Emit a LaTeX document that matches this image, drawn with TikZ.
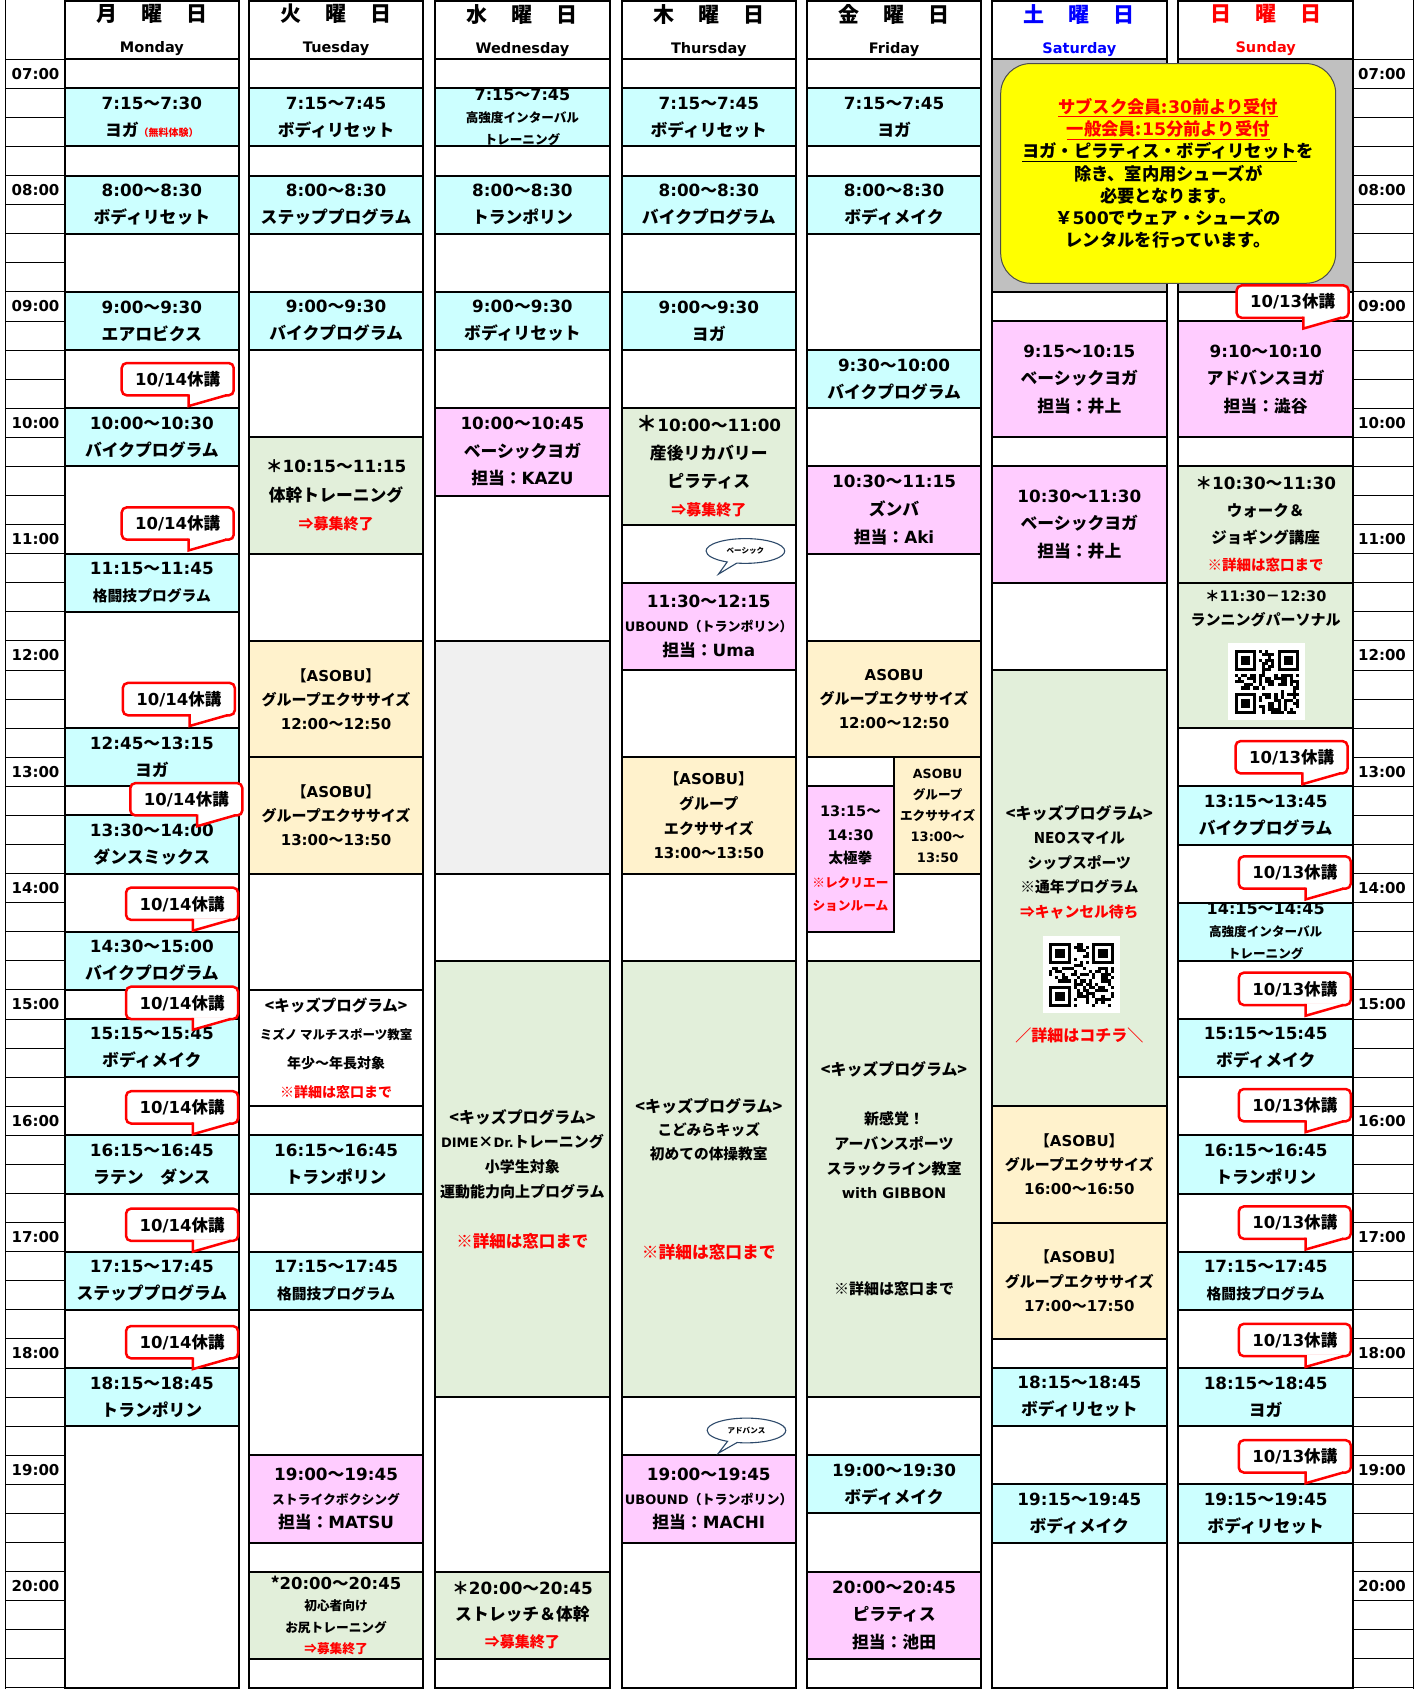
\documentclass[tikz,border=0pt]{standalone}
\usepackage{fontspec}
\setmainfont{Noto Sans CJK JP}
\newfontfamily\lat{DejaVu Sans}
\usetikzlibrary{shapes.callouts,shapes.geometric}
\definecolor{cyc}{HTML}{CCFFFF}
\definecolor{pkc}{HTML}{FFCCFF}
\definecolor{grc}{HTML}{E2EFDA}
\definecolor{crc}{HTML}{FFF2CC}
\definecolor{gyc}{HTML}{C0C0C0}
\definecolor{lgc}{HTML}{F0F0F0}
\definecolor{ylc}{HTML}{FFFF00}
\definecolor{bubc}{HTML}{2E4A6B}
\definecolor{satc}{HTML}{0000FF}
\definecolor{sunc}{HTML}{FF0000}
\newcommand\fsz[2]{\fontsize{#1}{#2}\selectfont}
\newcommand\trng[2]{{\lat #1}〜{\lat #2}}
\newcommand\rdt[1]{{\color{red}#1}}
\tikzset{
 blk/.style={draw=black,line width=2pt,inner sep=0pt,align=center,font=\bfseries\fsz{16.8}{27}},
 f/.style 2 args={font=\bfseries\fsz{#1}{#2}},
 cy/.style={fill=cyc}, pk/.style={fill=pkc}, gr/.style={fill=grc},
 cr/.style={fill=crc,font=\bfseries\fsz{15}{24.2}},
 wh/.style={fill=white}, gy/.style={fill=gyc}, lg/.style={fill=lgc},
 colb/.style={draw=black,line width=2pt},
 tline/.style={draw=black,line width=0.9pt},
 tlab/.style={font=\bfseries\lat\fsz{15}{15},inner sep=0pt},
 hdr/.style={draw=black,line width=2pt,fill=white,inner sep=0pt,align=center,minimum width=162*1.0769pt,minimum height=54*1.0769pt,font=\bfseries\fsz{21}{31}},
 coline/.style={draw=red,line width=2.5pt,fill=white},
 cotext/.style={font=\bfseries\fsz{16.5}{16.5},inner sep=0pt},
 bubble/.style={ellipse callout,draw=bubc,line width=1.1pt,fill=white,inner sep=0pt,minimum width=73*1.0769pt,minimum height=23*1.0769pt,font=\bfseries\fsz{7.5}{8}},
 ftxt/.style={align=center,inner sep=0pt}
}
\newcommand\blk[5]{\node[blk,#4,minimum width={\colw*1.0769pt},minimum height={108*(#3-#2)*1.0769pt}] (#1) at ({\colx+\colw/2},{55+54*(#2+#3-14)}) {#5};}
\newcommand\callout[4]{%
 \draw[coline,rounded corners=5pt] (#2,#3) rectangle ++(104,30);
 \fill[white] ({#2+62},{#3+28.5}) -- ({#2+62},{#3+40}) -- ({#2+96},{#3+30}) -- ({#2+96},{#3+28.5}) -- cycle;
 \draw[draw=red,line width=2.5pt,line join=miter] ({#2+62},{#3+29}) -- ({#2+62},{#3+40}) -- ({#2+97},{#3+30});
 \node[cotext] (#1) at ({#2+52},{#3+15}) {{\lat #4}休講};
}
\newcommand\qrcode[4]{%
 \pgfmathsetseed{#4}%
 \fill[white] ({#1-12.5*#3},{#2-12.5*#3}) rectangle ({#1+12.5*#3},{#2+12.5*#3});
 \foreach \i in {0,...,20}{\foreach \j in {0,...,20}{%
  \pgfmathrandominteger{\rr}{0}{1}%
  \pgfmathtruncatemacro\qrskip{or(or(and(\i<8,\j<8),and(\i>12,\j<8)),and(\i<8,\j>12))}%
  \ifnum\qrskip=0 \ifnum\rr=1 \fill ({#1+(\i-10.5)*#3},{#2+(\j-10.5)*#3}) rectangle ++(#3,#3);\fi\fi
 }}
 \foreach \a/\b in {0/0,14/0,0/14}{%
  \fill ({#1+(\a-10.5)*#3},{#2+(\b-10.5)*#3}) rectangle ++({7*#3},{7*#3});
  \fill[white] ({#1+(\a-9.5)*#3},{#2+(\b-9.5)*#3}) rectangle ++({5*#3},{5*#3});
  \fill ({#1+(\a-8.5)*#3},{#2+(\b-8.5)*#3}) rectangle ++({3*#3},{3*#3});
 }
}
\newcommand\hsp{\hspace{1.14em}}
\begin{document}
\begin{tikzpicture}[x=1.0769pt,y=-1.0769pt]
\useasboundingbox (0,0) rectangle (1314,1568);
\fill[white] (0,0) rectangle (1314,1568);
% time columns
\foreach \k in {0,...,56}{\draw[tline] (5,{55+27*\k}) -- (60,{55+27*\k}); \draw[tline] (1256,{55+27*\k}) -- (1312,{55+27*\k});}
\draw[tline] (5,0) -- (5,1568);
\draw[tline] (1312,0) -- (1312,1568);
\foreach \h/\lbl in {7/07:00,8/08:00,9/09:00,10/10:00,11/11:00,12/12:00,13/13:00,14/14:00,15/15:00,16/16:00,17/17:00,18/18:00,19/19:00,20/20:00}{
 \node[tlab] (L\h) at (33,{55+108*(\h-7)+13.5}) {\lbl};
 \node[tlab] (R\h) at (1283,{55+108*(\h-7)+13.5}) {\lbl};
}
% ---------- Monday
\def\colx{60}\def\colw{162}
\blk{m0}{7}{7.25}{wh}{}
\blk{m1}{7.25}{7.75}{cy}{\trng{7:15}{7:30}\\ヨガ{\fsz{10}{10}\color{red}（無料体験）}}
\blk{m2}{7.75}{8}{wh}{}
\blk{m3}{8}{8.5}{cy}{\trng{8:00}{8:30}\\ボディリセット}
\blk{m4}{8.5}{9}{wh}{}
\blk{m5}{9}{9.5}{cy}{\trng{9:00}{9:30}\\エアロビクス}
\blk{m6}{9.5}{10}{wh}{}
\blk{m7}{10}{10.5}{cy}{\trng{10:00}{10:30}\\バイクプログラム}
\blk{m8}{10.5}{11.25}{wh}{}
\blk{m9}{11.25}{11.75}{cy}{\trng{11:15}{11:45}\\{\fsz{14.8}{15}格闘技プログラム}}
\blk{m10}{11.75}{12.75}{wh}{}
\blk{m11}{12.75}{13.25}{cy}{\trng{12:45}{13:15}\\ヨガ}
\blk{m12}{13.25}{13.5}{wh}{}
\blk{m13}{13.5}{14}{cy}{\trng{13:30}{14:00}\\ダンスミックス}
\blk{m14}{14}{14.5}{wh}{}
\blk{m15}{14.5}{15}{cy}{\trng{14:30}{15:00}\\バイクプログラム}
\blk{m16}{15}{15.25}{wh}{}
\blk{m17}{15.25}{15.75}{cy}{\trng{15:15}{15:45}\\ボディメイク}
\blk{m18}{15.75}{16.25}{wh}{}
\blk{m19}{16.25}{16.75}{cy}{\trng{16:15}{16:45}\\ラテン　ダンス}
\blk{m20}{16.75}{17.25}{wh}{}
\blk{m21}{17.25}{17.75}{cy}{\trng{17:15}{17:45}\\ステッププログラム}
\blk{m22}{17.75}{18.25}{wh}{}
\blk{m23}{18.25}{18.75}{cy}{\trng{18:15}{18:45}\\トランポリン}
\blk{m24}{18.75}{21}{wh}{}
% ---------- Tuesday
\def\colx{231}
\blk{t0}{7}{7.25}{wh}{}
\blk{t1}{7.25}{7.75}{cy}{\trng{7:15}{7:45}\\ボディリセット}
\blk{t2}{7.75}{8}{wh}{}
\blk{t3}{8}{8.5}{cy}{\trng{8:00}{8:30}\\ステッププログラム}
\blk{t4}{8.5}{9}{wh}{}
\blk{t5}{9}{9.5}{cy}{\trng{9:00}{9:30}\\バイクプログラム}
\blk{t6}{9.5}{10.25}{wh}{}
\blk{t7}{10.25}{11.25}{gr,f={16.8}{28.5}}{＊\trng{10:15}{11:15}\\体幹トレーニング\\{\fsz{15}{15}\color{red}⇒募集終了}}
\blk{t8}{11.25}{12}{wh}{}
\blk{t9}{12}{13}{cr}{【{\lat ASOBU}】\\グループエクササイズ\\\trng{12:00}{12:50}}
\blk{t10}{13}{14}{cr}{【{\lat ASOBU}】\\グループエクササイズ\\\trng{13:00}{13:50}}
\blk{t11}{14}{15}{wh}{}
\blk{t12}{15}{16}{wh,f={15.5}{28.5}}{<キッズプログラム>\\{\fsz{12.5}{13}ミズノ マルチスポーツ教室}\\{\fsz{14}{14}年少〜年長対象}\\{\fsz{14}{14}\color{red}※詳細は窓口まで}}
\blk{t13}{16}{16.25}{wh}{}
\blk{t14}{16.25}{16.75}{cy}{\trng{16:15}{16:45}\\トランポリン}
\blk{t15}{16.75}{17.25}{wh}{}
\blk{t16}{17.25}{17.75}{cy}{\trng{17:15}{17:45}\\{\fsz{14.8}{15}格闘技プログラム}}
\blk{t17}{17.75}{19}{wh}{}
\blk{t18}{19}{19.75}{pk,f={16.8}{24.2}}{\trng{19:00}{19:45}\\{\fsz{12.8}{13}ストライクボクシング}\\担当：{\lat MATSU}}
\blk{t19}{19.75}{20}{wh}{}
\blk{t20}{20}{20.75}{gr,f={12.7}{21.5}}{{\fsz{16.5}{16.5}*\trng{20:00}{20:45}}\\初心者向け\\お尻トレーニング\\{\color{red}⇒募集終了}}
\blk{t21}{20.75}{21}{wh}{}
% ---------- Wednesday
\def\colx{404}
\blk{w0}{7}{7.25}{wh}{}
\blk{w1}{7.25}{7.75}{cy,f={12.6}{22}}{{\fsz{16}{16}\trng{7:15}{7:45}}\\高強度インターバル\\トレーニング}
\blk{w2}{7.75}{8}{wh}{}
\blk{w3}{8}{8.5}{cy}{\trng{8:00}{8:30}\\トランポリン}
\blk{w4}{8.5}{9}{wh}{}
\blk{w5}{9}{9.5}{cy}{\trng{9:00}{9:30}\\ボディリセット}
\blk{w6}{9.5}{10}{wh}{}
\blk{w7}{10}{10.75}{pk,f={16.8}{27.5}}{\trng{10:00}{10:45}\\ベーシックヨガ\\担当：{\lat KAZU}}
\blk{w8}{10.75}{12}{wh}{}
\blk{w9}{12}{14}{lg}{}
\blk{w10}{14}{14.75}{wh}{}
\blk{w11}{14.75}{18.5}{gr,f={15}{24.8}}{{\fsz{15.9}{16}<キッズプログラム>}\\{\lat\fsz{13}{13}DIME}×{\lat\fsz{13}{13}Dr.}トレーニング\\小学生対象\\運動能力向上プログラム\\[24.8pt]{\fsz{16.5}{16.5}\color{red}※詳細は窓口まで}}
\blk{w12}{18.5}{20}{wh}{}
\blk{w13}{20}{20.75}{gr,f={16.8}{26.4}}{＊\trng{20:00}{20:45}\\ストレッチ＆体幹\\{\fsz{15}{15}\color{red}⇒募集終了}}
\blk{w14}{20.75}{21}{wh}{}
% ---------- Thursday
\def\colx{577}
\blk{h0}{7}{7.25}{wh}{}
\blk{h1}{7.25}{7.75}{cy}{\trng{7:15}{7:45}\\ボディリセット}
\blk{h2}{7.75}{8}{wh}{}
\blk{h3}{8}{8.5}{cy}{\trng{8:00}{8:30}\\バイクプログラム}
\blk{h4}{8.5}{9}{wh}{}
\blk{h5}{9}{9.5}{cy}{\trng{9:00}{9:30}\\ヨガ}
\blk{h6}{9.5}{10}{wh}{}
\blk{h7}{10}{11}{gr,f={16.8}{28}}{{\fsz{21}{21}＊}\trng{10:00}{11:00}\\産後リカバリー\\ピラティス\\{\fsz{15}{15}\color{red}⇒募集終了}}
\blk{h8}{11}{11.5}{wh}{}
\blk{h9}{11.5}{12.25}{pk,f={16.8}{24.8}}{\trng{11:30}{12:15}\\{\fsz{13}{13}{\lat UBOUND}（トランポリン）}\\担当：{\lat Uma}}
\blk{h10}{12.25}{13}{wh}{}
\blk{h11}{13}{14}{cr,f={15}{24.8}}{【{\lat ASOBU}】\\グループ\\エクササイズ\\\trng{13:00}{13:50}}
\blk{h12}{14}{14.75}{wh}{}
\blk{h13}{14.75}{18.5}{gr,f={14.7}{23.7}}{{\fsz{16}{16}<キッズプログラム>}\\こどみらキッズ\\初めての体操教室\\[75pt]{\fsz{16.7}{17}\color{red}※詳細は窓口まで}}
\blk{h14}{18.5}{19}{wh}{}
\blk{h15}{19}{19.75}{pk,f={16.8}{24.2}}{\trng{19:00}{19:45}\\{\fsz{13}{13}{\lat UBOUND}（トランポリン）}\\担当：{\lat MACHI}}
\blk{h16}{19.75}{21}{wh}{}
% ---------- Friday
\def\colx{749}
\blk{f0}{7}{7.25}{wh}{}
\blk{f1}{7.25}{7.75}{cy}{\trng{7:15}{7:45}\\ヨガ}
\blk{f2}{7.75}{8}{wh}{}
\blk{f3}{8}{8.5}{cy}{\trng{8:00}{8:30}\\ボディメイク}
\blk{f4}{8.5}{9.5}{wh}{}
\blk{f5}{9.5}{10}{cy}{\trng{9:30}{10:00}\\バイクプログラム}
\blk{f6}{10}{10.5}{wh}{}
\blk{f7}{10.5}{11.25}{pk,f={16.8}{27.5}}{\trng{10:30}{11:15}\\ズンバ\\担当：{\lat Aki}}
\blk{f8}{11.25}{12}{wh}{}
\blk{f9}{12}{13}{cr}{{\lat ASOBU}\\グループエクササイズ\\\trng{12:00}{12:50}}
\blk{f10}{13}{14.75}{wh}{}
\def\colw{81}
\blk{f11}{13}{13.25}{wh}{}
\blk{f12}{13.25}{14.5}{pk,f={14.5}{23.5}}{{\lat 13:15}〜\\{\lat 14:30}\\太極拳\\{\fsz{12.7}{13}\color{red}※レクリエー}\\{\fsz{12.7}{13}\color{red}ションルーム}}
\def\colx{830}
\blk{f13}{13}{14}{cr,f={12.6}{21}}{{\lat ASOBU}\\グループ\\エクササイズ\\{\lat\fsz{13}{13}13:00}〜\\{\lat\fsz{13}{13}13:50}}
\def\colx{749}\def\colw{162}
\blk{f14}{14.75}{18.5}{gr,f={15}{24.8}}{{\fsz{15.9}{16}<キッズプログラム>}\\[24pt]新感覚！\\アーバンスポーツ\\スラックライン教室\\{\lat\fsz{14.5}{15}with GIBBON}\\[71pt]※詳細は窓口まで}
\blk{f15}{18.5}{19}{wh}{}
\blk{f16}{19}{19.5}{cy}{\trng{19:00}{19:30}\\ボディメイク}
\blk{f17}{19.5}{20}{wh}{}
\blk{f18}{20}{20.75}{pk,f={16.8}{27.5}}{\trng{20:00}{20:45}\\ピラティス\\担当：池田}
\blk{f19}{20.75}{21}{wh}{}
% ---------- Saturday
\def\colx{921}
\blk{s0}{7}{9}{gy}{}
\blk{s1}{9}{9.25}{wh}{}
\blk{s2}{9.25}{10.25}{pk,f={16.8}{27.5}}{\trng{9:15}{10:15}\\ベーシックヨガ\\担当：井上}
\blk{s3}{10.25}{10.5}{wh}{}
\blk{s4}{10.5}{11.5}{pk,f={16.8}{27.5}}{\trng{10:30}{11:30}\\ベーシックヨガ\\担当：井上}
\blk{s5}{11.5}{12.25}{wh}{}
\blk{s6}{12.25}{16}{gr}{}
\blk{s7}{16}{17}{cr}{【{\lat ASOBU}】\\グループエクササイズ\\\trng{16:00}{16:50}}
\blk{s8}{17}{18}{cr}{【{\lat ASOBU}】\\グループエクササイズ\\\trng{17:00}{17:50}}
\blk{s9}{18}{18.25}{wh}{}
\blk{s10}{18.25}{18.75}{cy}{\trng{18:15}{18:45}\\ボディリセット}
\blk{s11}{18.75}{19.25}{wh}{}
\blk{s12}{19.25}{19.75}{cy}{\trng{19:15}{19:45}\\ボディメイク}
\blk{s13}{19.75}{21}{wh}{}
\node[ftxt,f={14.8}{24.5}] (s6t) at (1002,800.5) {{\fsz{16}{16}<キッズプログラム>}\\NEOスマイル\\シップスポーツ\\※通年プログラム\\\rdt{⇒キャンセル待ち}};
\node[ftxt,f={16}{16}] (s6r) at (1002,961) {\rdt{／詳細はコチラ＼}};
% ---------- Sunday
\def\colx{1094}
\blk{u0}{7}{9}{gy}{}
\blk{u1}{9}{9.25}{wh}{}
\blk{u2}{9.25}{10.25}{pk,f={16.8}{27.5}}{\trng{9:10}{10:10}\\アドバンスヨガ\\担当：澁谷}
\blk{u3}{10.25}{10.5}{wh}{}
\blk{u4}{10.5}{11.5}{gr,f={15.5}{27}}{{\fsz{16.8}{17}＊\trng{10:30}{11:30}}\\ウォーク＆\\ジョギング講座\\{\fsz{14.5}{15}\color{red}※詳細は窓口まで}}
\blk{u5}{11.5}{12.75}{gr}{}
\blk{u6}{12.75}{13.25}{wh}{}
\blk{u7}{13.25}{13.75}{cy}{\trng{13:15}{13:45}\\バイクプログラム}
\blk{u8}{13.75}{14.25}{wh}{}
\blk{u9}{14.25}{14.75}{cy,f={12.6}{22}}{{\fsz{16}{16}\trng{14:15}{14:45}}\\高強度インターバル\\トレーニング}
\blk{u10}{14.75}{15.25}{wh}{}
\blk{u11}{15.25}{15.75}{cy}{\trng{15:15}{15:45}\\ボディメイク}
\blk{u12}{15.75}{16.25}{wh}{}
\blk{u13}{16.25}{16.75}{cy}{\trng{16:15}{16:45}\\トランポリン}
\blk{u14}{16.75}{17.25}{wh}{}
\blk{u15}{17.25}{17.75}{cy}{\trng{17:15}{17:45}\\{\fsz{14.8}{15}格闘技プログラム}}
\blk{u16}{17.75}{18.25}{wh}{}
\blk{u17}{18.25}{18.75}{cy}{\trng{18:15}{18:45}\\ヨガ}
\blk{u18}{18.75}{19.25}{wh}{}
\blk{u19}{19.25}{19.75}{cy}{\trng{19:15}{19:45}\\ボディリセット}
\blk{u20}{19.75}{21}{wh}{}
\node[ftxt,f={14.5}{15}] (u5a) at (1175,553) {＊{\lat 11:30}－{\lat 12:30}};
\node[ftxt,f={15}{15}] (u5b) at (1175,575) {ランニングパーソナル};
% ---------- column borders and headers
\foreach \x in {60,231,404,577,749,921,1094}{\draw[colb] (\x,1) rectangle ++(162,1570);}
\node[hdr] (hmon) at (141,28) {月\hsp 曜\hsp 日\\{\lat\fsz{14.5}{15}Monday}};
\node[hdr] (htue) at (312,28) {火\hsp 曜\hsp 日\\{\lat\fsz{14.5}{15}Tuesday}};
\node[hdr] (hwed) at (485,28) {水\hsp 曜\hsp 日\\{\lat\fsz{14.5}{15}Wednesday}};
\node[hdr] (hthu) at (658,28) {木\hsp 曜\hsp 日\\{\lat\fsz{14.5}{15}Thursday}};
\node[hdr] (hfri) at (830,28) {金\hsp 曜\hsp 日\\{\lat\fsz{14.5}{15}Friday}};
\node[hdr,text=satc] (hsat) at (1002,28) {土\hsp 曜\hsp 日\\{\lat\fsz{14.5}{15}Saturday}};
\node[hdr,text=sunc] (hsun) at (1175,28) {日\hsp 曜\hsp 日\\{\lat\fsz{14.5}{15}Sunday}};
% ---------- QR codes
\qrcode{1004}{905}{2.85}{3}
\qrcode{1176}{633}{2.85}{7}
% ---------- yellow notice
\node[draw=black!70,line width=1pt,fill=ylc,rounded corners=30pt,minimum width=311*1.0769pt,minimum height=204*1.0769pt,inner sep=0pt] (ybox) at (1084.5,161) {};
\node[ftxt,font=\bfseries\fsz{17.3}{22.2}] (ytext) at (1084.5,161) {{\color{red}\underline{サブスク会員:{\lat 30}前より受付}}\\{\color{red}\underline{一般会員:{\lat 15}分前より受付}}\\\underline{ヨガ・ピラティス・ボディリセット}を\\除き、室内用シューズが\\必要となります。\\￥{\lat 500}でウェア・シューズの\\レンタルを行っています。};
% ---------- callouts
\callout{cm1}{113}{337}{10/14}
\callout{cm2}{113}{471}{10/14}
\callout{cm3}{114}{634}{10/14}
\callout{cm4}{121}{727}{10/14}
\callout{cm5}{117}{824}{10/14}
\callout{cm6}{117}{916}{10/14}
\callout{cm7}{117}{1013}{10/14}
\callout{cm8}{117}{1122}{10/14}
\callout{cm9}{117}{1231}{10/14}
\callout{cs1}{1148}{265}{10/13}
\callout{cs2}{1147}{688}{10/13}
\callout{cs3}{1150}{795}{10/13}
\callout{cs4}{1150}{903}{10/13}
\callout{cs5}{1150}{1011}{10/13}
\callout{cs6}{1150}{1120}{10/13}
\callout{cs7}{1150}{1229}{10/13}
\callout{cs8}{1150}{1337}{10/13}
% ---------- bubbles
\node[bubble,callout absolute pointer={(667,533)}] (bub1) at (692,511.5) {ベーシック};
\node[bubble,callout absolute pointer={(667,1349)}] (bub2) at (693,1328) {アドバンス};
\end{tikzpicture}
\end{document}
